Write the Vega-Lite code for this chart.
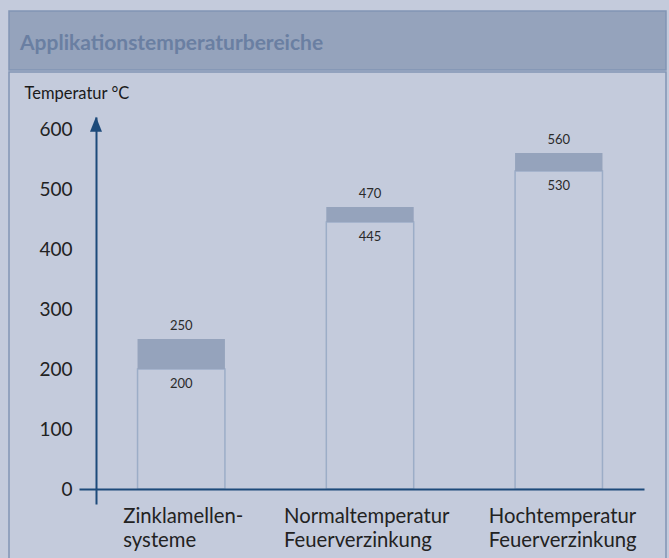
{
  "$schema": "https://vega.github.io/schema/vega-lite/v6.json",
  "background": "#c4cbdc",
  "padding": {"left": 8, "top": 10, "right": 4, "bottom": 0},
  "spacing": 0,
  "config": {"font": "Lato", "view": {"stroke": "#8195b4", "strokeWidth": 1.5}},
  "vconcat": [
    {
      "width": 657,
      "height": 59,
      "view": {"fill": "#95a3bc", "stroke": "#8195b4", "strokeWidth": 1.5},
      "title": {
        "text": "Applikationstemperaturbereiche",
        "anchor": "start",
        "frame": "group",
        "offset": -60,
        "dx": 11,
        "baseline": "alphabetic",
        "font": "Lato",
        "fontSize": 21,
        "fontWeight": "bold",
        "color": "#6a7fa2"
      },
      "data": {"values": [{"titel": "Applikationstemperaturbereiche"}]},
      "mark": {"type": "text", "opacity": 0},
      "encoding": {"text": {"field": "titel"}}
    },
    {
      "width": 657,
      "height": 500,
      "view": {"fill": null, "stroke": "#8195b4", "strokeWidth": 1.5},
      "data": {
        "values": [
          {"kategorie": "Zinklamellen-systeme", "von": 200, "bis": 250},
          {"kategorie": "Normaltemperatur Feuerverzinkung", "von": 445, "bis": 470},
          {"kategorie": "Hochtemperatur Feuerverzinkung", "von": 530, "bis": 560}
        ]
      },
      "resolve": {"scale": {"x": "independent"}},
      "layer": [
        {
          "encoding": {
            "x": {
              "field": "kategorie",
              "type": "nominal",
              "sort": null,
              "scale": {"range": [87, 635], "paddingInner": 0.537, "paddingOuter": 0.22},
              "axis": {
                "orient": "bottom",
                "offset": -83,
                "title": null,
                "ticks": false,
                "domainColor": "#1d4a7a",
                "domainWidth": 2,
                "labelExpr": "datum.value == 'Zinklamellen-systeme' ? ['Zinklamellen-', 'systeme'] : split(datum.value, ' ')",
                "labelAlign": "left",
                "labelOffset": {
                  "condition": [
                    {"test": "datum.value == 'Zinklamellen-systeme'", "value": -58},
                    {"test": "datum.value == 'Normaltemperatur Feuerverzinkung'", "value": -86}
                  ],
                  "value": -70
                },
                "labelFontSize": 20.3,
                "labelColor": "#222222",
                "labelPadding": 17,
                "labelLineHeight": 24,
                "labelBaseline": "top",
                "labelAngle": 0,
                "labelOverlap": false,
                "labelLimit": 0,
                "zindex": 1
              }
            },
            "y": {
              "field": "von",
              "type": "quantitative",
              "scale": {"domain": [-25, 620], "range": [432, 45], "nice": false, "zero": false},
              "axis": {
                "values": [0, 100, 200, 300, 400, 500, 600],
                "offset": -87,
                "domainColor": "#1d4a7a",
                "domainWidth": 2,
                "tickColor": {"condition": {"test": "datum.value == 0", "value": "#1d4a7a"}, "value": "transparent"},
                "tickSize": 17,
                "tickWidth": 2,
                "labelPadding": 7,
                "labelFontSize": 19,
                "labelColor": "#222222",
                "grid": false,
                "title": "Temperatur °C",
                "titleAngle": 0,
                "titleAlign": "left",
                "titleBaseline": "middle",
                "titleX": -72,
                "titleY": 21,
                "titleFontSize": 16.5,
                "titleFontWeight": "normal",
                "titleColor": "#1a1a1a",
                "zindex": 1
              }
            }
          },
          "layer": [
            {
              "mark": {"type": "bar", "fill": "transparent", "stroke": "#9cadc7", "strokeWidth": 1.5},
              "encoding": {"y2": {"datum": 0}}
            },
            {
              "mark": {"type": "bar", "color": "#95a3bc"},
              "encoding": {"y2": {"field": "bis"}}
            },
            {
              "mark": {"type": "text", "dy": -13, "fontSize": 13, "color": "#2a2a2a"},
              "encoding": {
                "y": {"field": "bis", "type": "quantitative"},
                "text": {"field": "bis"}
              }
            },
            {
              "mark": {"type": "text", "dy": 15, "fontSize": 13, "color": "#2a2a2a"},
              "encoding": {"text": {"field": "von"}}
            }
          ]
        },
        {
          "data": {"values": [{"achse": "Temperatur"}]},
          "mark": {"type": "point", "shape": "M0,-1L-0.8,1L0.8,1Z", "filled": true, "size": 225, "color": "#1d4a7a", "opacity": 1},
          "encoding": {
            "x": {"datum": 0, "type": "quantitative", "scale": {"domain": [0, 1], "range": [87, 635]}, "axis": null},
            "y": {"datum": 608, "type": "quantitative"}
          }
        }
      ]
    }
  ]
}
